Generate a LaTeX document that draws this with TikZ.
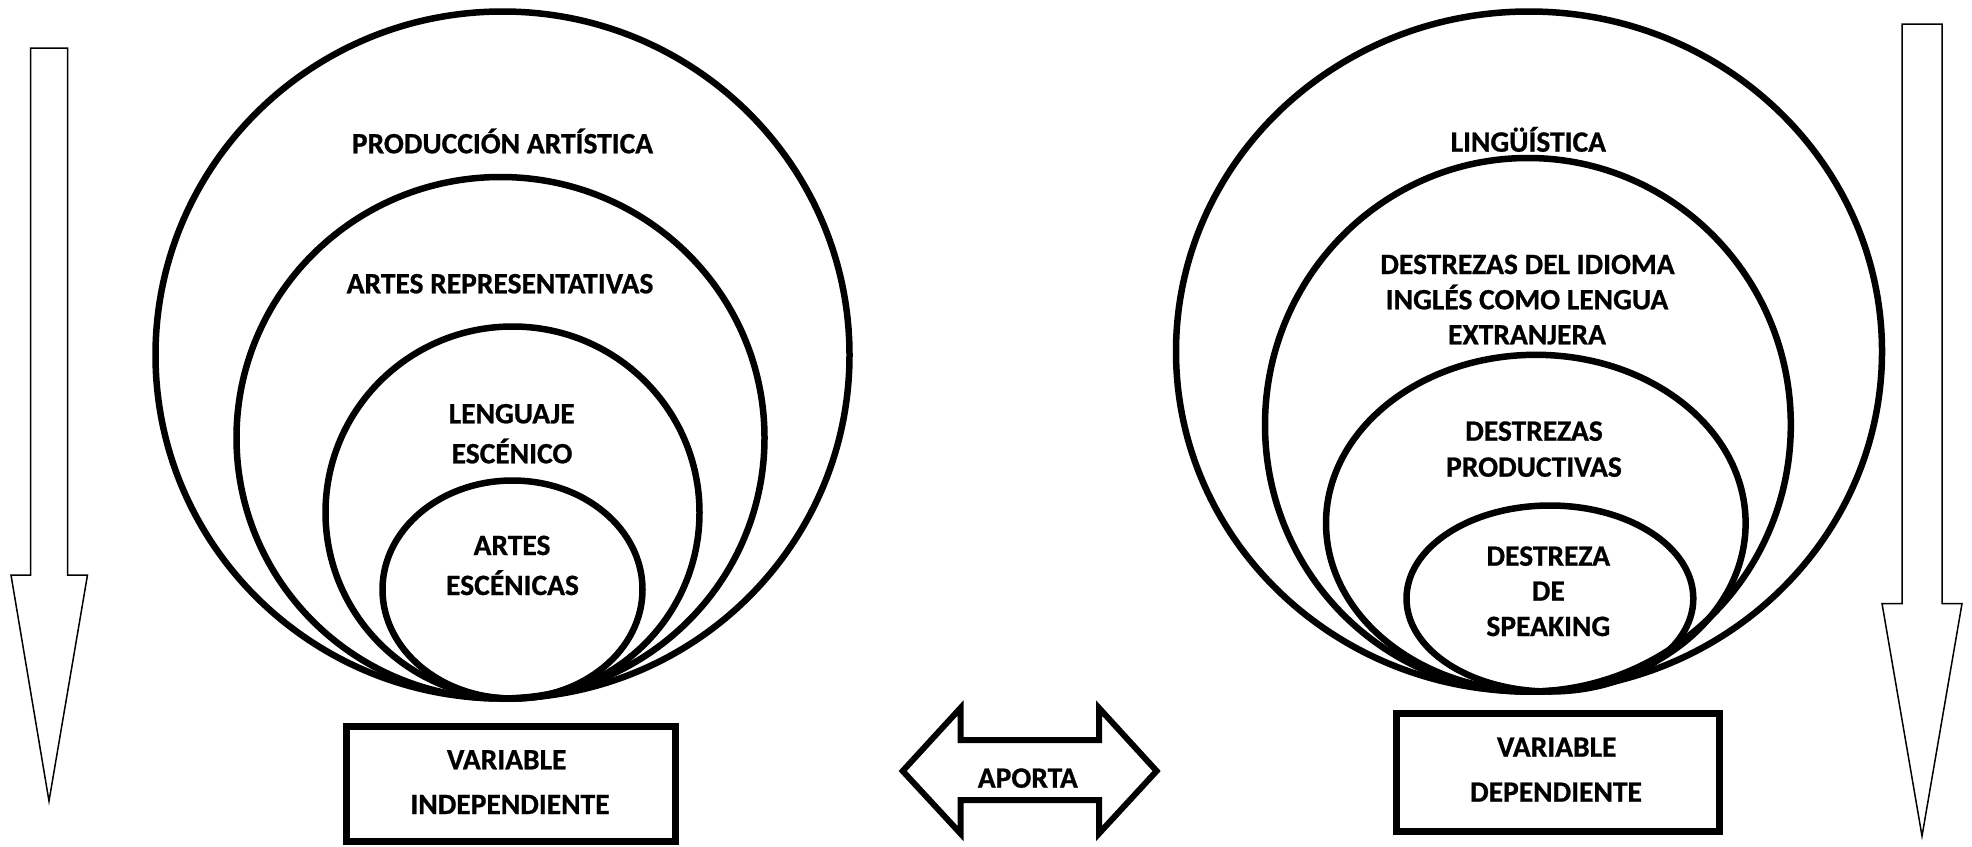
\documentclass[tikz,border=0pt]{standalone}
\usepackage{fontspec}
\setmainfont{Carlito}[BoldFeatures={FakeBold=0.8}]
\begin{document}
\begin{tikzpicture}[x=1pt,y=-1pt,
  ring/.style={draw,line width=6.5pt},
  lbl/.style={font=\fontsize{29.5}{34}\selectfont\bfseries, anchor=base, inner sep=0pt},
  varbox/.style={draw,line width=7pt,inner sep=0pt},
  flecha/.style={draw,line width=1.5pt,line join=miter},
  dobleflecha/.style={draw,line width=6pt,line join=miter},
]
\fill[white] (0,0) rectangle (1972,846);
\useasboundingbox (0,0) rectangle (1972,846);

% ---------- left arrow ----------
\draw[flecha] (30.5,48) -- (67.7,48) -- (67.7,575) -- (87.5,575) -- (49,801)
  -- (11,575) -- (30.5,575) -- cycle;

% ---------- right arrow ----------
\draw[flecha] (1902,24) -- (1942,24) -- (1942,603.5) -- (1962,603.5) -- (1922,836)
  -- (1882,603.5) -- (1902,603.5) -- cycle;

% ---------- left circles ----------
\draw[ring] (502.5,355) ellipse [x radius=347, y radius=343.5];
\draw[ring] (500.5,437.75) ellipse [x radius=264, y radius=260.75];
\draw[ring] (512.5,512.5) ellipse [x radius=187, y radius=186];
\draw[ring] (512.5,589.5) ellipse [x radius=130, y radius=109];

\node[lbl] (pa) at (502.5,153.3) {PRODUCCIÓN ARTÍSTICA};
\node[lbl] (ar) at (500,293.3) {ARTES REPRESENTATIVAS};
\node[lbl] (le1) at (511.7,423.3) {LENGUAJE};
\node[lbl] (le2) at (512,463.3) {ESCÉNICO};
\node[lbl] (ae1) at (512,555) {ARTES};
\node[lbl] (ae2) at (512.5,595) {ESCÉNICAS};

% ---------- right circles ----------
\draw[ring] (1529,351.5) ellipse [x radius=353, y radius=340];
\draw[ring] (1527.9,424.8) ellipse [x radius=262.9, y radius=266.8];
\draw[ring] (1535.8,523.2) ellipse [x radius=209.8, y radius=168.4];
\draw[ring] (1549.9,598.5) ellipse [x radius=143.4, y radius=93];

\node[lbl] (li) at (1528.3,151.7) {LINGÜÍSTICA};
\node[lbl] (di1) at (1527.5,274) {DESTREZAS DEL IDIOMA};
\node[lbl] (di2) at (1527,309.3) {INGLÉS COMO LENGUA};
\node[lbl] (di3) at (1527,344.3) {EXTRANJERA};
\node[lbl] (dp1) at (1534,440.7) {DESTREZAS};
\node[lbl] (dp2) at (1534,476.7) {PRODUCTIVAS};
\node[lbl] (ds1) at (1548.3,565.7) {DESTREZA};
\node[lbl] (ds2) at (1548.3,600.7) {DE};
\node[lbl] (ds3) at (1548.3,636) {SPEAKING};

% ---------- boxes ----------
\node[varbox,minimum width=329.6pt,minimum height=114.7pt] (vi) at (511,784.2) {};
\node[lbl] (vi1) at (506.7,769.3) {VARIABLE};
\node[lbl] (vi2) at (510,814) {INDEPENDIENTE};

\node[varbox,minimum width=323.6pt,minimum height=118pt] (vd) at (1558,772.5) {};
\node[lbl] (vd1) at (1556.7,756.7) {VARIABLE};
\node[lbl] (vd2) at (1556,801.7) {DEPENDIENTE};

% ---------- double arrow ----------
\draw[dobleflecha] (902.7,771) -- (960.5,708) -- (960.5,740) -- (1099,740)
  -- (1099,708) -- (1156.6,771) -- (1099,833.5) -- (1099,800) -- (960.5,800)
  -- (960.5,833.5) -- cycle;
\node[lbl] (ap) at (1027.8,787.7) {APORTA};
\end{tikzpicture}
\end{document}
